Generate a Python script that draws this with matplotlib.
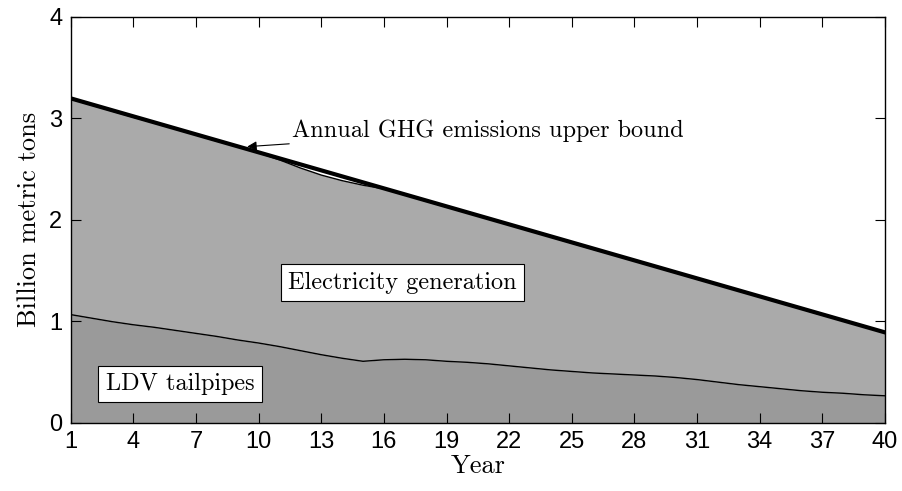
import numpy as np
import matplotlib
matplotlib.use("Agg")
import matplotlib.pyplot as plt

# Emissions by year (billion metric tons)
years = np.arange(1, 41)
ldv_tailpipes = [1.065, 1.03, 0.995, 0.965, 0.94, 0.91, 0.88, 0.85, 0.815, 0.785,
                 0.75, 0.71, 0.67, 0.635, 0.605, 0.62, 0.625, 0.62, 0.605, 0.595,
                 0.58, 0.56, 0.54, 0.52, 0.505, 0.49, 0.48, 0.47, 0.46, 0.445,
                 0.425, 0.40, 0.375, 0.355, 0.335, 0.315, 0.30, 0.29, 0.275, 0.265]
total_emissions = [3.19, 3.13, 3.07, 3.01, 2.955, 2.895, 2.835, 2.775, 2.72, 2.66,
                   2.59, 2.51, 2.44, 2.385, 2.34, 2.305, 2.245, 2.185, 2.125, 2.07,
                   2.01, 1.95, 1.89, 1.83, 1.77, 1.71, 1.655, 1.595, 1.535, 1.475,
                   1.415, 1.36, 1.30, 1.24, 1.18, 1.12, 1.06, 1.005, 0.945, 0.885]
bound_years = [1, 40]
bound_values = [3.196, 0.89]

serif = "cmr10"
plt.rcParams["font.family"] = ["Liberation Sans", "DejaVu Sans"]
plt.rcParams["axes.unicode_minus"] = False

fig = plt.figure(figsize=(9.03, 4.91), dpi=100)
ax = fig.add_axes([0.0783, 0.1391, 0.9017, 0.8268])

ax.fill_between(years, 0, ldv_tailpipes, color="#9a9a9a", linewidth=0)
ax.fill_between(years, ldv_tailpipes, total_emissions, color="#aaaaaa", linewidth=0)
ax.plot(years, ldv_tailpipes, color="black", linewidth=1.0)
ax.plot(years, total_emissions, color="black", linewidth=1.0)
ax.plot(bound_years, bound_values, color="black", linewidth=3.0)

ax.annotate("Annual GHG emissions upper bound", xy=(9.45, 2.72), xytext=(11.6, 2.88),
            fontsize=17.5, family=serif, va="center", ha="left",
            arrowprops=dict(arrowstyle="-|>", color="black", lw=0.8,
                            mutation_scale=14, shrinkA=0, shrinkB=0))

box = dict(boxstyle="square,pad=0.3", facecolor="white", edgecolor="black", linewidth=0.8)
ax.text(16.9, 1.38, "Electricity generation", fontsize=17.5, family=serif,
        ha="center", va="center", bbox=box)
ax.text(6.23, 0.38, "LDV tailpipes", fontsize=17.5, family=serif,
        ha="center", va="center", bbox=box)

ax.set_xlim(1, 40)
ax.set_ylim(0, 4)
ax.set_xticks(range(1, 41, 3))
ax.set_yticks([0, 1, 2, 3, 4])
ax.tick_params(direction="in", top=True, right=True, length=7, width=0.8,
               labelsize=17, pad=6)
for s in ax.spines.values():
    s.set_linewidth(1.0)

ax.set_xlabel("Year", fontsize=19, family=serif, labelpad=1)
ax.set_ylabel("Billion metric tons", fontsize=19, family=serif, labelpad=6)

fig.savefig("out.png", dpi=100)
